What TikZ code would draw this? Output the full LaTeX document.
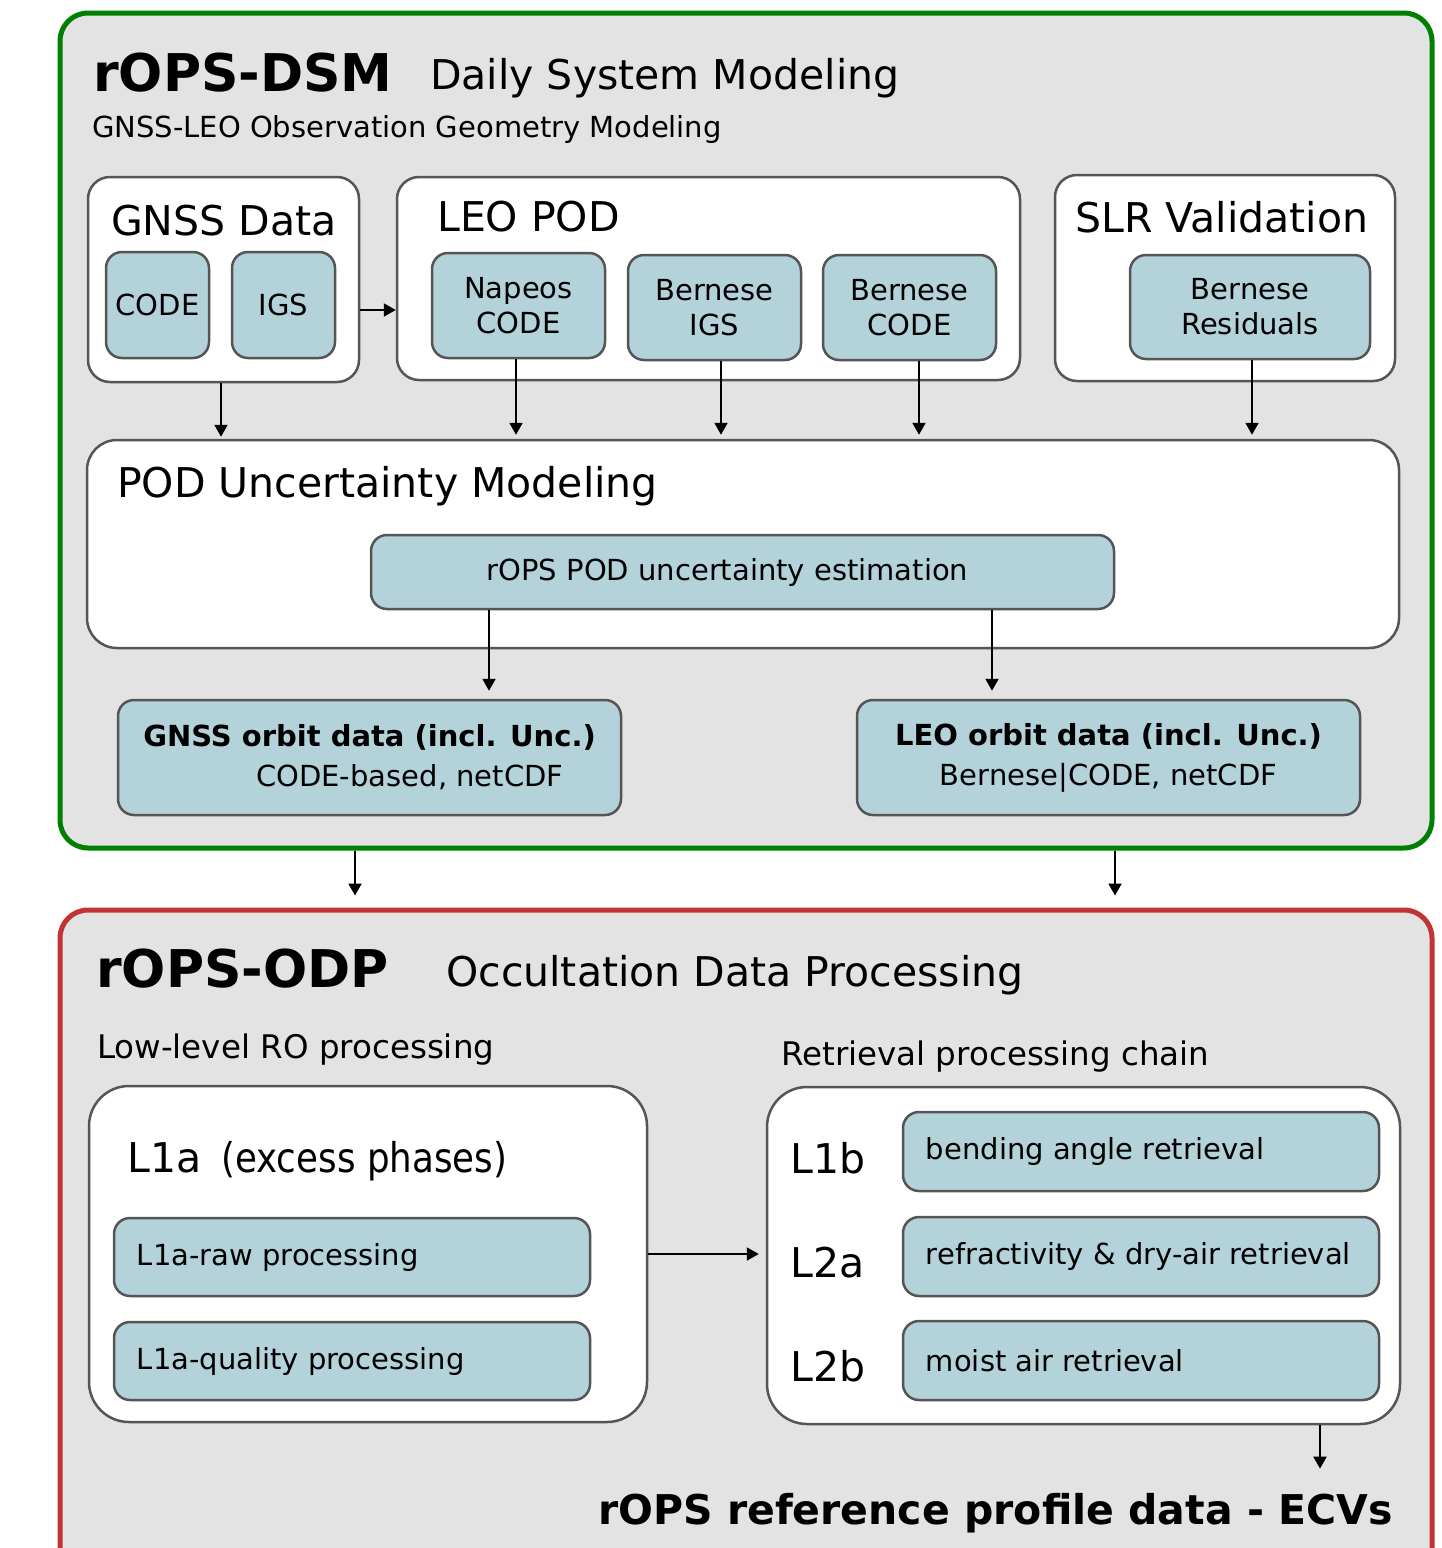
\documentclass[tikz,border=0pt]{standalone}
\usepackage{fontspec}
\setmainfont{DejaVu Sans}
\usetikzlibrary{arrows.meta,calc}
\definecolor{bgray}{HTML}{E3E3E3}
\definecolor{bblue}{HTML}{B4D2DA}
\definecolor{edgegray}{HTML}{555555}
\definecolor{dsmgreen}{HTML}{008000}
\definecolor{odpred}{HTML}{C23434}
\newcommand\rfSmall{\fontsize{29}{35}\selectfont}
\newcommand\rfOrbit{\fontsize{29}{40}\selectfont}
\newcommand\rfMid{\fontsize{32.5}{38}\selectfont}
\newcommand\rfHead{\fontsize{41}{48}\selectfont}
\newcommand\rfTitle{\fontsize{52}{60}\selectfont\bfseries}
\begin{document}
\begin{tikzpicture}[x=1pt,y=-1pt,
  outerbox/.style={line width=5pt,fill=bgray,rounded corners=28pt,inner sep=0pt},
  wbox/.style={draw=edgegray,line width=2.5pt,fill=white,rounded corners=22pt,inner sep=0pt},
  bbox/.style={draw=edgegray,line width=2.5pt,fill=bblue,rounded corners=16pt,inner sep=0pt,font=\rfSmall,align=center},
  txt/.style={anchor=base west,inner sep=0pt},
  arr/.style={-{Triangle[length=12pt,width=13pt]},line width=2pt},
  lbl/.style={anchor=west,inner sep=0pt,font=\rfSmall,xshift=24pt}]
\useasboundingbox (0,0) rectangle (1442,1548);
\clip (0,0) rectangle (1442,1548);
\fill[white] (0,0) rectangle (1442,1548);

% ---------- rOPS-DSM ----------
\node[outerbox,draw=dsmgreen,minimum width=1372pt,minimum height=835pt] (dsm) at (746,430.5) {};
\node[txt,font=\rfTitle] (dsmt) at (93,91) {rOPS-DSM};
\node[txt,font=\rfHead] (dsms) at (430,89) {Daily System Modeling};
\node[txt,font=\rfSmall] (dsmg) at (92,137) {GNSS-LEO Observation Geometry Modeling};

\node[wbox,minimum width=271pt,minimum height=205pt] (gnss) at (223.5,279.5) {};
\node[txt,font=\rfHead] at (111,235) {GNSS Data};
\node[bbox,minimum width=103pt,minimum height=106pt] (code) at (157.5,305) {CODE};
\node[bbox,minimum width=103pt,minimum height=106pt] (igs) at (283.5,305) {IGS};

\node[wbox,minimum width=623pt,minimum height=203pt] (leopod) at (708.5,278.5) {};
\node[txt,font=\rfHead] at (437,231) {LEO POD};
\node[bbox,minimum width=173pt,minimum height=105pt] (napeos) at (518.5,305.5) {Napeos\\CODE};
\node[bbox,minimum width=173pt,minimum height=105pt] (bigs) at (714.5,307.5) {Bernese\\IGS};
\node[bbox,minimum width=173pt,minimum height=105pt] (bcode) at (909.5,307.5) {Bernese\\CODE};

\node[wbox,minimum width=340pt,minimum height=206pt] (slr) at (1225,278) {};
\node[txt,font=\rfHead] at (1075,232) {SLR Validation};
\node[bbox,minimum width=240pt,minimum height=104pt] (bres) at (1250,307) {Bernese\\Residuals};

\node[wbox,rounded corners=30pt,minimum width=1312pt,minimum height=208pt] (podunc) at (743,544) {};
\node[txt,font=\rfHead] at (117,497) {POD Uncertainty Modeling};
\node[bbox,minimum width=743pt,minimum height=74pt] (est) at (742.5,572) {rOPS POD uncertainty estimation\hspace*{30pt}};

\node[bbox,font=\rfOrbit,minimum width=503pt,minimum height=115pt,align=left] (gorbit) at (369.5,757.5)
  {\textbf{GNSS orbit data (incl. Unc.)}\\\hspace*{113pt}CODE-based, netCDF};
\node[bbox,font=\rfOrbit,minimum width=503pt,minimum height=115pt] (lorbit) at (1108.5,757.5)
  {\textbf{LEO orbit data (incl. Unc.)}\\Bernese|CODE, netCDF};

% arrows inside DSM
\draw[arr] ([yshift=-5pt]gnss.east |- code.center) -- ([yshift=-5pt]leopod.west |- code.center);
\draw[arr,shorten >=2pt] ([xshift=-2.5pt]gnss.south) -- ([xshift=-2.5pt]gnss.south |- podunc.north);
\draw[arr,shorten >=4pt] ([xshift=-2.5pt]napeos.south) -- ([xshift=-2.5pt]napeos.south |- podunc.north);
\draw[arr,shorten >=4pt] ([xshift=6.5pt]bigs.south) -- ([xshift=6.5pt]bigs.south |- podunc.north);
\draw[arr,shorten >=4pt] ([xshift=9.5pt]bcode.south) -- ([xshift=9.5pt]bcode.south |- podunc.north);
\draw[arr,shorten >=4pt] ([xshift=2pt]bres.south) -- ([xshift=2pt]bres.south |- podunc.north);
\draw[arr,shorten >=8pt] ([xshift=-253.5pt]est.south) -- ([xshift=-253.5pt]est.south |- gorbit.north);
\draw[arr,shorten >=8pt] ([xshift=249.5pt]est.south) -- ([xshift=249.5pt]est.south |- lorbit.north);

% ---------- rOPS-ODP ----------
\node[outerbox,draw=odpred,minimum width=1372pt,minimum height=700pt] (odp) at (746,1260) {};
\draw[arr,shorten >=12pt] ([xshift=-391pt]dsm.south) -- ([xshift=-391pt]dsm.south |- odp.north);
\draw[arr,shorten >=12pt] ([xshift=369pt]dsm.south) -- ([xshift=369pt]dsm.south |- odp.north);

\node[txt,font=\rfTitle] (odpt) at (96,987) {rOPS-ODP};
\node[txt,font=\rfHead] (odps) at (446,986) {Occultation Data Processing};
\node[txt,font=\rfMid] (lowt) at (97,1058) {Low-level RO processing};
\node[txt,font=\rfMid] (rett) at (781,1065) {Retrieval processing chain};

\node[wbox,rounded corners=40pt,minimum width=558pt,minimum height=336pt] (l1abox) at (368,1254) {};
\node[txt,font=\rfHead] at (127,1172) {L1a\hspace*{20pt}\scalebox{0.87}[1]{(excess phases)}};
\node[bbox,minimum width=476pt,minimum height=78pt,label={[lbl]west:L1a-raw processing}] (raw) at (352,1257) {};
\node[bbox,minimum width=476pt,minimum height=78pt,label={[lbl]west:L1a-quality processing}] (qual) at (352,1361) {};

\node[wbox,rounded corners=40pt,minimum width=633pt,minimum height=337pt] (rbox) at (1083.5,1255.5) {};
\node[txt,font=\rfHead] at (790,1173) {L1b};
\node[txt,font=\rfHead] at (790,1277) {L2a};
\node[txt,font=\rfHead] at (790,1381) {L2b};
\node[bbox,minimum width=476pt,minimum height=79pt,label={[lbl]west:bending angle retrieval}] (bend) at (1141,1151.5) {};
\node[bbox,minimum width=476pt,minimum height=79pt,label={[lbl]west:refractivity \& dry-air retrieval}] (refr) at (1141,1256.5) {};
\node[bbox,minimum width=476pt,minimum height=79pt,label={[lbl]west:moist air retrieval}] (moist) at (1141,1360.5) {};

\draw[arr,shorten >=7pt] (l1abox.east) -- (l1abox.east -| rbox.west);

\node[txt,font=\fontsize{41}{48}\selectfont\bfseries] (ecvs) at (598,1524) {rOPS reference profile data - ECVs};
\draw[arr,shorten >=24pt] ([xshift=236.5pt]rbox.south) -- ([xshift=236.5pt]rbox.south |- ecvs.north);
\end{tikzpicture}
\end{document}
